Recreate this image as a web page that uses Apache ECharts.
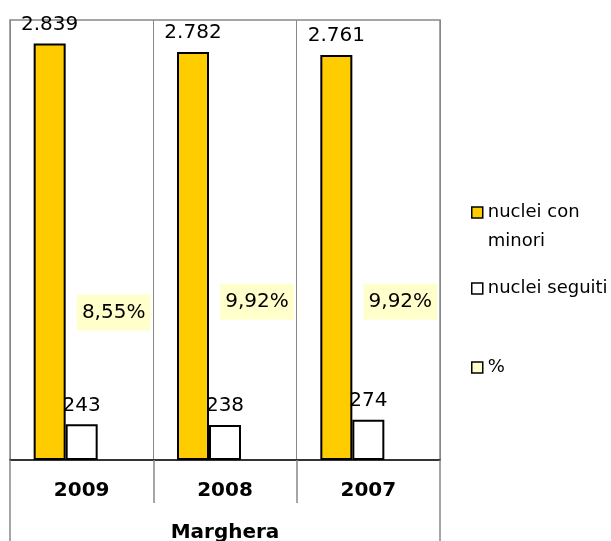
<!DOCTYPE html>
<html>
<head>
<meta charset="utf-8">
<script src="https://cdn.jsdelivr.net/npm/echarts@6/dist/echarts.min.js"></script>
<style>
html,body{margin:0;padding:0;background:#fff;}
#chart{width:611px;height:541px;}
</style>
</head>
<body>
<div id="chart"></div>
<script>
const categories = ['2009', '2008', '2007'];
const groupLabel = ['Marghera'];
const nucleiConMinori = [2839, 2782, 2761];
const nucleiSeguiti = [243, 238, 274];
const percentuale = [8.55, 9.92, 9.92];
const seriesNames = ['nuclei con minori', 'nuclei seguiti', '%'];

function itNum(v) {
  return String(v).replace(/\B(?=(\d{3})+(?!\d))/g, '.');
}
function itPct(v) {
  return v.toFixed(2).replace('.', ',') + '%';
}

const FONT = 'DejaVu Sans';
const chart = echarts.init(document.getElementById('chart'));

const legendBase = {
  orient: 'vertical',
  left: 466,
  icon: 'rect',
  itemWidth: 11,
  itemHeight: 11,
  itemGap: 8,
  selectedMode: false,
  itemStyle: { borderColor: '#000', borderWidth: 1.5 },
  textStyle: { fontFamily: FONT, fontSize: 18, color: '#000', lineHeight: 29 }
};

chart.setOption({
  animation: false,
  textStyle: { fontFamily: FONT },
  grid: {
    left: 10, right: 171, top: 20, bottom: 81,
    outerBoundsMode: 'none', containLabel: false,
    show: true, borderColor: '#888', borderWidth: 1.5, backgroundColor: 'transparent'
  },
  legend: [
    Object.assign({}, legendBase, {
      top: 164,
      data: [seriesNames[0]],
      formatter: () => ' \nnuclei con\nminori'
    }),
    Object.assign({}, legendBase, { top: 269, data: [seriesNames[1]] }),
    Object.assign({}, legendBase, { top: 348, data: [{ name: seriesNames[2], itemStyle: { color: '#FFFFCC', borderColor: '#000', borderWidth: 1.5 } }] })
  ],
  xAxis: [
    {
      type: 'category',
      data: categories,
      position: 'bottom',
      axisLine: { show: true, lineStyle: { color: '#111', width: 1.5 } },
      axisTick: { show: true, length: 43, inside: false, lineStyle: { color: '#888', width: 1.5 } },
      splitLine: { show: true, lineStyle: { color: '#888', width: 1 } },
      axisLabel: { fontFamily: FONT, fontSize: 20, fontWeight: 'bold', color: '#000', margin: 21 }
    },
    {
      type: 'category',
      data: groupLabel,
      position: 'bottom',
      axisLine: { show: false },
      axisTick: { show: true, length: 81, lineStyle: { color: '#888', width: 1.5 } },
      axisLabel: { fontFamily: FONT, fontSize: 20, fontWeight: 'bold', color: '#000', margin: 63 },
      splitLine: { show: false }
    }
  ],
  yAxis: [
    { type: 'value', min: 0, max: 3000, show: false, splitLine: { show: false } },
    { type: 'value', min: 0, max: 55, show: false, splitLine: { show: false } }
  ],
  series: [
    {
      name: seriesNames[0], type: 'bar', xAxisIndex: 0, yAxisIndex: 0,
      data: nucleiConMinori, barWidth: 32, barGap: '0%',
      itemStyle: { color: '#FFCC00', borderColor: '#000', borderWidth: 2 },
      label: { show: true, position: 'top', distance: 9, fontFamily: FONT, fontSize: 20, color: '#000',
        formatter: p => itNum(p.value) }
    },
    {
      name: seriesNames[1], type: 'bar', xAxisIndex: 0, yAxisIndex: 0,
      data: nucleiSeguiti, barWidth: 32, barGap: '0%',
      itemStyle: { color: '#FFFFFF', borderColor: '#000', borderWidth: 2 },
      label: { show: true, position: 'top', distance: 9, fontFamily: FONT, fontSize: 20, color: '#000',
        formatter: p => itNum(p.value) }
    },
    {
      name: seriesNames[2], type: 'bar', xAxisIndex: 0, yAxisIndex: 1,
      data: percentuale, barWidth: 32, barGap: '0%',
      itemStyle: { color: 'rgba(255,255,204,0)', borderWidth: 0 },
      label: { show: true, position: 'top', distance: 61, fontFamily: FONT, fontSize: 20, color: '#000',
        backgroundColor: '#FFFFCC', padding: [8, 5, 8, 5],
        formatter: p => itPct(p.value) }
    }
  ]
});
</script>
</body>
</html>
